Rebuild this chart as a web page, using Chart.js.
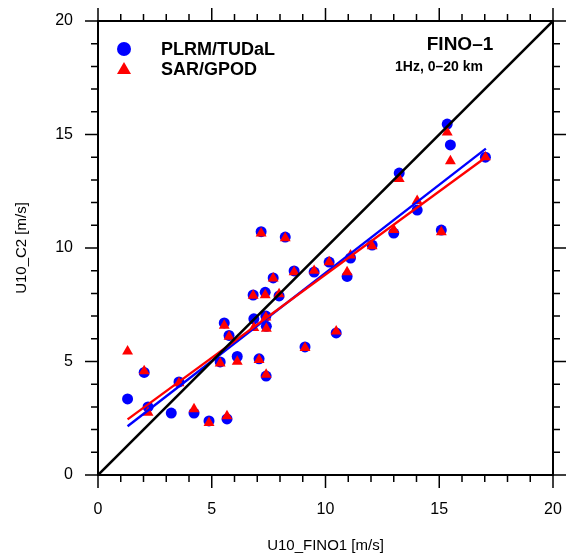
<!DOCTYPE html>
<html>
<head>
<meta charset="utf-8">
<script src="https://cdn.jsdelivr.net/npm/chart.js@4"></script>
<style>
  html, body { margin: 0; padding: 0; background: #fff; }
  #scatter { display: block; }
</style>
</head>
<body>
<canvas id="scatter" width="567" height="558"></canvas>
<script>
// FINO-1 wind speed comparison

// U10 at FINO1 (x) and the two altimeter products (y)
const fino1 = [1.3, 2.03, 2.2, 3.22, 3.56, 4.22, 4.88, 5.37, 5.55, 5.67, 5.76, 6.12, 6.85, 6.82, 7.08,
    7.17, 7.35, 7.38, 7.4, 7.39, 7.7, 7.96, 8.23, 8.62, 9.1, 9.5, 10.16, 10.47, 10.95, 11.1,
    12.05, 13.0, 13.24, 14.03, 15.09, 15.35, 15.49, 17.03];
const plrm = [3.35, 4.52, 3.0, 2.73, 4.1, 2.73, 2.38, 4.98, 6.7, 2.47, 6.15, 5.22, 6.88, 7.93, 5.12,
    10.72, 8.05, 7.0, 6.55, 4.36, 8.68, 7.89, 10.48, 8.99, 5.64, 8.94, 9.38, 6.26, 8.75, 9.56,
    10.13, 10.66, 13.3, 11.67, 10.79, 15.46, 14.54, 14.0];
const sar = [5.45, 4.58, 2.75, null, 4.05, 2.9, 2.3, 4.92, 6.58, 2.6, 6.1, 5.0, 6.48, 7.9, 5.07,
    10.65, 7.93, 6.95, 6.45, 4.42, 8.66, 7.97, 10.44, 8.94, 5.6, 9.0, 9.38, 6.33, 8.94, 9.68,
    10.08, 10.8, 13.05, 12.08, 10.7, 15.1, 13.83, 14.0];

// regression lines (end points) and the 1:1 line
const fitX = [1.3, 17.05];
const plrmFit = [2.15, 14.38];
const sarFit = [2.45, 14.0];
const oneToOne = [0, 20];

const axisTicks = [0, 5, 10, 15, 20];

const FONT = '"Liberation Sans", Arial, Helvetica, sans-serif';
const BLUE = '#0000ff';
const RED = '#ff0000';

function toPoints(xs, ys) {
    return xs.map((x, i) => ({ x: x, y: ys[i] })).filter(p => p.y !== null);
}

// keep the plot box where the reference has it
function fixBox(size, prop) {
    return (scale) => {
        scale[prop] = size;
        scale.paddingLeft = 0;
        scale.paddingRight = 0;
        scale.paddingTop = 0;
        scale.paddingBottom = 0;
    };
}

// Frame, tick marks on all four sides, legend and annotation
const framePlugin = {
    id: 'frame',
    afterDraw(chart) {
        const ctx = chart.ctx;
        const area = chart.chartArea;
        const xs = chart.scales.x;
        const ys = chart.scales.y;

        ctx.save();
        ctx.strokeStyle = '#000';
        ctx.lineWidth = 2;
        ctx.strokeRect(area.left, area.top, area.right - area.left, area.bottom - area.top);

        ctx.lineWidth = 1.5;
        ctx.beginPath();
        for (let v = 0; v <= 20; v++) {
            const len = axisTicks.includes(v) ? 13 : 7;
            const px = xs.getPixelForValue(v);
            const py = ys.getPixelForValue(v);
            ctx.moveTo(px, area.bottom); ctx.lineTo(px, area.bottom + len);
            ctx.moveTo(px, area.top); ctx.lineTo(px, area.top - len);
            ctx.moveTo(area.left, py); ctx.lineTo(area.left - len, py);
            ctx.moveTo(area.right, py); ctx.lineTo(area.right + len, py);
        }
        ctx.stroke();

        // legend
        const lx = area.left + 26;
        ctx.fillStyle = BLUE;
        ctx.beginPath();
        ctx.arc(lx, area.top + 28, 7, 0, Math.PI * 2);
        ctx.fill();
        ctx.fillStyle = RED;
        ctx.beginPath();
        ctx.moveTo(lx, area.top + 41);
        ctx.lineTo(lx + 7, area.top + 53);
        ctx.lineTo(lx - 7, area.top + 53);
        ctx.closePath();
        ctx.fill();

        ctx.fillStyle = '#000';
        ctx.font = 'bold 18px ' + FONT;
        ctx.textAlign = 'left';
        ctx.textBaseline = 'middle';
        ctx.fillText('PLRM/TUDaL', area.left + 63, area.top + 29);
        ctx.fillText('SAR/GPOD', area.left + 63, area.top + 49);

        ctx.textAlign = 'center';
        ctx.font = 'bold 19px ' + FONT;
        ctx.fillText('FINO\u20131', 460, area.top + 24);
        ctx.font = 'bold 14px ' + FONT;
        ctx.fillText('1Hz, 0\u201320 km', 439, area.top + 46);
        ctx.restore();
    }
};

const ctx = document.getElementById('scatter').getContext('2d');
const chart = new Chart(ctx, {
    type: 'scatter',
    data: {
        datasets: [
            {
                type: 'line',
                label: '1:1',
                data: toPoints(oneToOne, oneToOne),
                borderColor: '#000',
                borderWidth: 2.6,
                pointRadius: 0,
                order: 0
            },
            {
                type: 'line',
                label: 'SAR fit',
                data: toPoints(fitX, sarFit),
                borderColor: RED,
                borderWidth: 2.4,
                pointRadius: 0,
                order: 1
            },
            {
                type: 'line',
                label: 'PLRM fit',
                data: toPoints(fitX, plrmFit),
                borderColor: BLUE,
                borderWidth: 2.4,
                pointRadius: 0,
                order: 2
            },
            {
                label: 'SAR/GPOD',
                data: toPoints(fino1, sar),
                pointStyle: 'triangle',
                pointRadius: 6.3,
                backgroundColor: RED,
                borderColor: RED,
                borderWidth: 0,
                order: 3
            },
            {
                label: 'PLRM/TUDaL',
                data: toPoints(fino1, plrm),
                pointStyle: 'circle',
                pointRadius: 5.5,
                backgroundColor: BLUE,
                borderColor: BLUE,
                borderWidth: 0,
                order: 4
            }
        ]
    },
    options: {
        responsive: false,
        animation: false,
        devicePixelRatio: 1,
        layout: { padding: { top: 21, right: 14, left: 0, bottom: 0 } },
        plugins: {
            legend: { display: false },
            tooltip: { enabled: false }
        },
        scales: {
            x: {
                type: 'linear',
                min: 0,
                max: 20,
                grid: { display: false, drawTicks: false },
                border: { display: false },
                ticks: {
                    stepSize: 5,
                    padding: 25,
                    color: '#000',
                    font: { family: FONT, size: 16 }
                },
                title: {
                    display: true,
                    text: 'U10_FINO1 [m/s]',
                    color: '#000',
                    font: { family: FONT, size: 15 },
                    padding: { top: 0, bottom: 3 }
                },
                afterFit: fixBox(83, 'height')
            },
            y: {
                type: 'linear',
                min: 0,
                max: 20,
                grid: { display: false, drawTicks: false },
                border: { display: false },
                ticks: {
                    stepSize: 5,
                    padding: 25,
                    color: '#000',
                    font: { family: FONT, size: 16 }
                },
                title: {
                    display: true,
                    text: 'U10_C2 [m/s]',
                    color: '#000',
                    font: { family: FONT, size: 15 },
                    padding: { top: 13, bottom: 0 }
                },
                afterFit: fixBox(98, 'width')
            }
        }
    },
    plugins: [framePlugin]
});
</script>
</body>
</html>
